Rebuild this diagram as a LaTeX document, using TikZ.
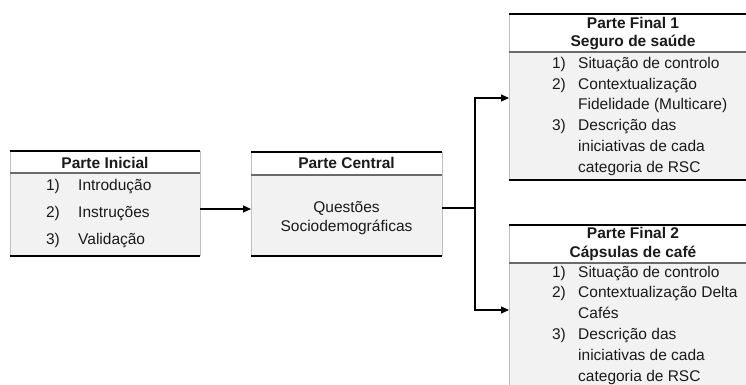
\documentclass[tikz,border=0pt]{standalone}
\usepackage{fontspec}
\setmainfont{Liberation Sans}
\usetikzlibrary{arrows.meta}
\definecolor{bodygrey}{HTML}{F2F2F2}
\definecolor{sidegrey}{HTML}{BFBFBF}
\definecolor{sepgrey}{HTML}{6A6A6A}
\definecolor{ink}{HTML}{1A1A1A}
\begin{document}
\begin{tikzpicture}[x=1pt,y=-1pt,
  boxn/.style={fill=bodygrey, draw=none, inner sep=0pt, outer sep=0pt},
  sidel/.style={draw=sidegrey, line width=1pt},
  sepl/.style={draw=sepgrey, line width=1.6pt},
  edgel/.style={draw=black, line width=2.2pt},
  txt/.style={font=\fontsize{15.5}{18}\selectfont, text=ink, inner sep=0pt, anchor=base west},
  num/.style={txt, anchor=base east},
  ctr/.style={txt, anchor=base},
  hd/.style={txt, font=\fontsize{15.5}{18}\selectfont\bfseries, anchor=base},
  conn/.style={draw=black, line width=1.1pt},
  arr/.style={conn, -{Triangle[length=8pt,width=7pt]}}
]
\useasboundingbox (0,0) rectangle (746,385);
\clip (0,0) rectangle (746,385);

% ---------- boxes ----------
\node[boxn, minimum width=190pt, minimum height=105pt] (ini) at (105,203.5) {};
\node[boxn, minimum width=191pt, minimum height=104pt] (cen) at (346.5,204) {};
\node[boxn, minimum width=248pt, minimum height=166pt] (f1) at (633,97) {};
\node[boxn, minimum width=248pt, minimum height=170pt] (f2) at (633,310) {};

% headers (white), sides, separators, top/bottom edges
\fill[white] (ini.north west) rectangle ([yshift=-22pt]ini.north east);
\fill[white] (cen.north west) rectangle ([yshift=-23pt]cen.north east);
\fill[white] (f1.north west) rectangle ([yshift=-38pt]f1.north east);
\fill[white] (f2.north west) rectangle ([yshift=-38pt]f2.north east);

\draw[sidel] (ini.north west) -- (ini.south west) (ini.north east) -- (ini.south east);
\draw[sidel] (cen.north west) -- (cen.south west) (cen.north east) -- (cen.south east);
\draw[sidel] (f1.north west) -- (f1.south west) (f1.north east) -- (f1.south east);
\draw[sidel] (f2.north west) -- (f2.south west) (f2.north east) -- (f2.south east);

\draw[sepl] ([yshift=-22pt]ini.north west) -- ([yshift=-22pt]ini.north east);
\draw[sepl] ([yshift=-23pt]cen.north west) -- ([yshift=-23pt]cen.north east);
\draw[sepl] ([yshift=-38pt]f1.north west) -- ([yshift=-38pt]f1.north east);
\draw[sepl] ([yshift=-38pt]f2.north west) -- ([yshift=-38pt]f2.north east);

\draw[edgel] (ini.north west) -- (ini.north east) (ini.south west) -- (ini.south east);
\draw[edgel] (cen.north west) -- (cen.north east) (cen.south west) -- (cen.south east);
\draw[edgel] (f1.north west) -- (f1.north east) (f1.south west) -- (f1.south east);
\draw[edgel] (f2.north west) -- (f2.north east) (f2.south west) -- (f2.south east);

% ---------- texts: Parte Inicial ----------
\node[hd] (iniT) at (105,168.5) {Parte Inicial};
\node[num] (ini1n) at (60,190.5) {1)};
\node[txt] (ini1) at (78,190.5) {Introdução};
\node[num] (ini2n) at (60,217.5) {2)};
\node[txt] (ini2) at (78,217.5) {Instruções};
\node[num] (ini3n) at (60,244.5) {3)};
\node[txt] (ini3) at (78,244.5) {Validação};

% ---------- Parte Central ----------
\node[hd] (cenT) at (346.5,168.5) {Parte Central};
\node[ctr] (cenB1) at (346.5,212.5) {Questões};
\node[ctr] (cenB2) at (346.5,231.5) {Sociodemográficas};

% ---------- Parte Final 1 ----------
\node[hd] (f1Ta) at (633,28.5) {Parte Final 1};
\node[hd] (f1Tb) at (633,46.5) {Seguro de saúde};
\node[num] (f1n1) at (566,68.5) {1)};
\node[txt] (f1a) at (578,68.5) {Situação de controlo};
\node[num] (f1n2) at (566,89.5) {2)};
\node[txt] (f1b) at (578,89.5) {Contextualização};
\node[txt] (f1c) at (578,109.5) {Fidelidade (Multicare)};
\node[num] (f1n3) at (566,130.5) {3)};
\node[txt] (f1d) at (578,130.5) {Descrição das};
\node[txt] (f1e) at (578,151.5) {iniciativas de cada};
\node[txt] (f1f) at (578,172.5) {categoria de RSC};

% ---------- Parte Final 2 ----------
\node[hd] (f2Ta) at (633,238.5) {Parte Final 2};
\node[hd] (f2Tb) at (633,257.5) {Cápsulas de café};
\node[num] (f2n1) at (566,277.5) {1)};
\node[txt] (f2a) at (578,277.5) {Situação de controlo};
\node[num] (f2n2) at (566,297.5) {2)};
\node[txt] (f2b) at (578,297.5) {Contextualização Delta};
\node[txt] (f2c) at (578,318.5) {Cafés};
\node[num] (f2n3) at (566,339.5) {3)};
\node[txt] (f2d) at (578,339.5) {Descrição das};
\node[txt] (f2e) at (578,360.5) {iniciativas de cada};
\node[txt] (f2f) at (578,381.5) {categoria de RSC};

% ---------- connectors ----------
\coordinate (jn) at (475,208);
\draw[arr] ([yshift=-5.5pt]ini.east) -- ([yshift=-5.5pt]ini.east -| cen.west);
\draw[conn] ([yshift=-4pt]cen.east) -- (jn);
\draw[arr] (jn) |- ([yshift=-1pt]f1.west);
\draw[arr] (jn) |- (f2.west);
\end{tikzpicture}
\end{document}
